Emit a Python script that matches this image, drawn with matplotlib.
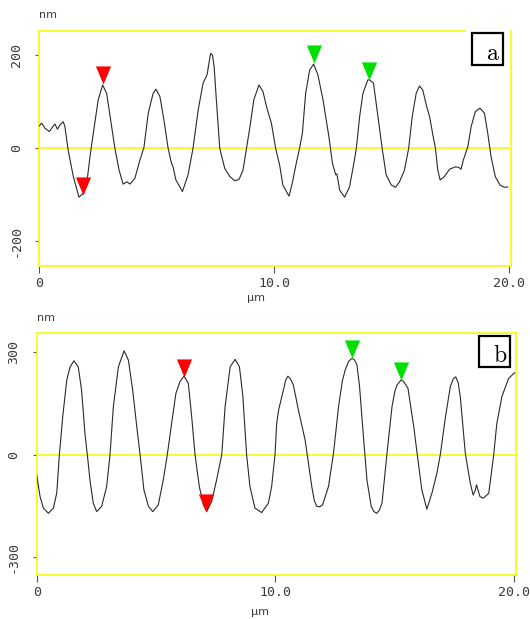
import matplotlib
matplotlib.use("Agg")
import matplotlib.pyplot as plt
from matplotlib.path import Path
from matplotlib.patches import Rectangle

plt.rcParams['mathtext.fontset'] = 'cm'

# ---- panel a profile (µm, nm)
a_x = [0, 0.1, 0.24, 0.43, 0.6, 0.67, 0.77, 0.88, 1.02, 1.09, 1.23, 1.45, 1.69, 1.87, 2.04,
       2.16, 2.30, 2.51, 2.70, 2.87, 3.04, 3.22, 3.40, 3.57, 3.74, 3.86, 4.07, 4.29, 4.46,
       4.64, 4.85, 4.97, 5.14, 5.31, 5.49, 5.63, 5.70, 5.82, 6.10, 6.34, 6.55, 6.77, 6.98,
       7.15, 7.22, 7.30, 7.38, 7.45, 7.55, 7.69, 7.90,
       8.11, 8.33, 8.51, 8.68, 8.83, 9.00, 9.14, 9.36, 9.53, 9.70, 9.89, 10.07, 10.24, 10.38,
       10.64, 10.78, 10.95, 11.09, 11.21, 11.35, 11.52, 11.69, 11.87, 12.09, 12.34, 12.49,
       12.63, 12.68, 12.80, 13.01, 13.22, 13.39, 13.51, 13.65, 13.79, 14.0,
       14.07, 14.24, 14.43, 14.61, 14.78, 15.0, 15.18, 15.35, 15.56, 15.74, 15.89, 16.06,
       16.2, 16.34, 16.51, 16.63, 16.77, 16.88, 16.98, 17.08, 17.26, 17.48, 17.73, 17.87,
       17.97, 18.07, 18.26, 18.4, 18.58, 18.78, 18.97, 19.11, 19.25, 19.43, 19.63, 19.82,
       19.96]
a_y = [48, 54, 43, 36, 48, 52, 41, 50, 57, 47, -4, -61, -105, -97, -68,
       -18, 32, 104, 136, 118, 61, 0, -47, -77, -72, -77, -65, -25, 2,
       75, 118, 127, 111, 61, 0, -32, -40, -68, -93, -57, 0, 82, 140,
       158, 180, 204, 200, 175, 100, 0, -43,
       -60, -70, -67, -47, 0, 54, 104, 136, 122, 86, 54, 0, -36, -79,
       -103, -75, -32, 0, 32, 118, 168, 181, 158, 104, 25, -32,
       -57, -55, -90, -105, -83, -36, 0, 68, 118, 147,
       147, 140, 68, 0, -57, -79, -84, -72, -47, 0, 68, 118,
       134, 125, 89, 68, 29, 0, -47, -68, -61, -45, -40, -41,
       -45, -25, 3, 46, 79, 86, 75, 32, -18, -61, -79, -84,
       -83]
a_mark_x = [1.87, 2.72, 11.69, 14.03]
a_mark_y = [-100, 138, 183, 147]
a_mark_c = ['red', 'red', 'green', 'green']

# ---- panel b profile
b_x = [0, 0.14, 0.28, 0.49, 0.70, 0.84, 0.95, 1.09, 1.26, 1.40, 1.56, 1.74, 1.88, 2.02,
       2.12, 2.23, 2.37, 2.51, 2.72, 2.93, 3.07, 3.21, 3.42, 3.66, 3.84, 4.02, 4.19, 4.33,
       4.49, 4.68, 4.86, 5.09, 5.30, 5.47, 5.65, 5.83, 6.00, 6.17, 6.35, 6.49, 6.63, 6.81,
       6.98, 7.12, 7.33, 7.54, 7.75, 7.89, 8.10, 8.31, 8.49, 8.63, 8.79, 8.93, 9.14, 9.42,
       9.70, 9.84, 9.98, 10.05,
       10.13, 10.33, 10.43, 10.52, 10.62, 10.75, 10.96, 11.24, 11.52, 11.63, 11.73, 11.85,
       11.97, 12.22, 12.43, 12.64, 12.8, 12.92, 13.06, 13.2, 13.3, 13.41, 13.52, 13.64,
       13.83, 14.01, 14.12, 14.24, 14.35, 14.46, 14.67, 14.88, 15.0, 15.09, 15.27, 15.4,
       15.55, 15.79, 15.93, 16.13, 16.34, 16.55, 16.76, 16.9, 17.11, 17.32, 17.45, 17.55,
       17.65, 17.74, 17.95, 18.16, 18.28, 18.36, 18.42, 18.56, 18.7, 18.93, 19.13, 19.27,
       19.48, 19.76, 20.01]
b_y = [-59, -122, -156, -171, -156, -112, 0, 111, 218, 256, 274, 256, 188, 62,
       0, -74, -142, -166, -151, -93, 0, 140, 256, 303, 276, 188, 82, 0,
       -103, -151, -166, -147, -74, 0, 91, 179, 213, 229, 208, 111, 0, -93,
       -146, -166, -136, -72, 0, 140, 256, 278, 256, 174, 0, -93, -156, -169,
       -142, -93, 0, 91,
       130, 188, 218, 229, 222, 203, 130, 43, -93, -135, -151, -152,
       -147, -93, 4, 140, 215, 247, 272, 281, 277, 262, 200, 91,
       -74, -151, -166, -171, -162, -142, 4, 140, 185, 203, 219, 210,
       193, 82, 4, -103, -159, -113, -54, -1, 106, 198, 222, 227,
       210, 169, 4, -84, -118, -105, -88, -122, -127, -113, -6, 91,
       169, 222, 239]
b_mark_x = [6.18, 7.11, 13.2, 15.27]
b_mark_y = [226, -166, 281, 219]
b_mark_c = ['red', 'red', 'green', 'green']

x_ticks = [0, 10, 20]
x_ticklabels = ['0', '10.0', '20.0']
a_yticks = [-200, 0, 200]
b_yticks = [-300, 0, 300]

YEL = '#f7f70a'
TXT = '#3a3a3a'
COLS = {'red': '#ff0000', 'green': '#00e000'}
tri = Path([(-0.42, 1.0), (0.42, 1.0), (0.0, 0.0), (-0.42, 1.0)],
           [Path.MOVETO, Path.LINETO, Path.LINETO, Path.CLOSEPOLY])

W, H = 530, 619
fig = plt.figure(figsize=(W / 100, H / 100), dpi=100)
fig.patch.set_facecolor('white')


def panel(rect, xs, ys, mx, my, mc, yticks, xmax, ylim, label, topfrac, boxrect):
    ax = fig.add_axes(rect)
    ax.set_xlim(0, xmax)
    ax.set_ylim(*ylim)
    for s in ['left', 'bottom', 'right']:
        ax.spines[s].set_color(YEL)
        ax.spines[s].set_linewidth(1.2)
    ax.spines['top'].set_visible(False)
    ax.axhline(ylim[1], 0, topfrac, color=YEL, lw=1.2, clip_on=False)
    ax.axhline(0, color=YEL, lw=1.2, zorder=1)
    ax.plot(xs, ys, color='#2a2a2a', lw=0.8, zorder=3)
    for x, y, c in zip(mx, my, mc):
        ax.plot([x], [y], marker=tri, markersize=26, color=COLS[c],
                markeredgewidth=0, linestyle='none', zorder=4)
    ax.set_xticks(x_ticks)
    ax.set_xticklabels(x_ticklabels)
    ax.set_yticks(yticks)
    ax.set_yticklabels([str(v) for v in yticks], rotation=90, va='center')
    ax.tick_params(axis='x', length=5, width=0.8, color='#555555', pad=3,
                   labelsize=9.5, labelcolor=TXT)
    ax.tick_params(axis='y', length=3, width=0.8, color='#555555', pad=9,
                   labelsize=9.5, labelcolor=TXT)
    for t in ax.get_xticklabels() + ax.get_yticklabels():
        t.set_family('DejaVu Sans Mono')
    bx0, by0, bx1, by1 = boxrect
    ax.add_patch(Rectangle((bx0, by0), bx1 - bx0, by1 - by0, transform=ax.transAxes,
                           fill=True, facecolor='white', edgecolor='black', lw=1.6,
                           zorder=5, clip_on=False))
    ax.text(bx1 - 0.006, by0 + 0.02, r'$\mathrm{' + label + '}$', transform=ax.transAxes,
            ha='right', va='baseline', fontsize=17, color='black', zorder=6)
    return ax


axa = panel([39.3 / W, 1 - 266 / H, (511 - 39.3) / W, (266 - 31) / H],
            a_x, a_y, a_mark_x, a_mark_y, a_mark_c, a_yticks, 20.1, (-253, 252), 'a',
            0.903, (0.917, 0.855, 0.983, 0.991))
axb = panel([36.7 / W, 1 - 575.3 / H, (515.7 - 36.7) / W, (575.3 - 333.3) / H],
            b_x, b_y, b_mark_x, b_mark_y, b_mark_c, b_yticks, 20.06, (-352, 354), 'b',
            1.0, (0.923, 0.862, 0.989, 0.990))

for (nx, ny), (ux, uy) in [((48, 15), (256, 298)), ((46, 318), (260, 612))]:
    fig.text(nx / W, 1 - ny / H, 'nm', ha='center', va='center', fontsize=8,
             color=TXT, family='DejaVu Sans')
    fig.text(ux / W, 1 - uy / H, 'µm', ha='center', va='center', fontsize=8,
             color=TXT, family='DejaVu Sans')

fig.savefig('out.png', dpi=100, facecolor='white')
